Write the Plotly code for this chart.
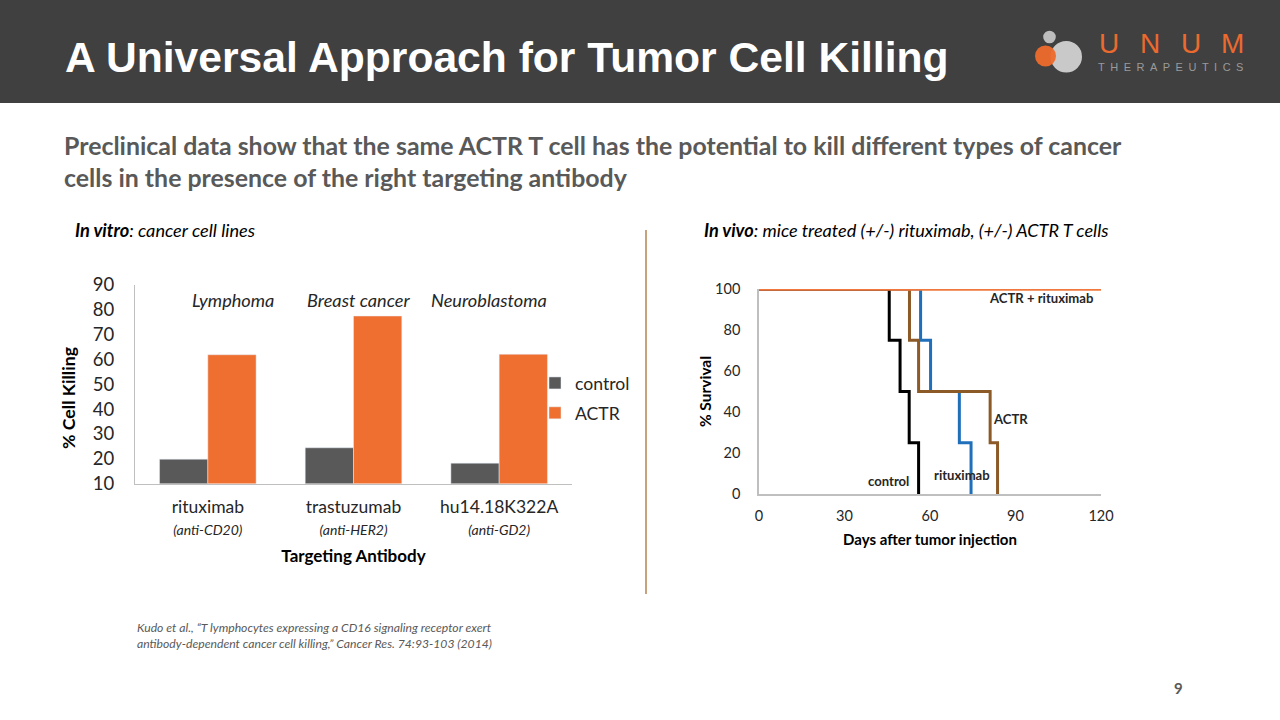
import plotly.graph_objects as go

# ---------------- data ----------------
antibodies = ["rituximab", "trastuzumab", "hu14.18K322A"]
targets = ["(anti-CD20)", "(anti-HER2)", "(anti-GD2)"]
cancer_types = ["Lymphoma", "Breast cancer", "Neuroblastoma"]
control_killing = [19.8, 24.4, 18.2]
actr_killing = [61.9, 77.5, 62.1]

# survival (Kaplan-Meier style step data)
control_days = [0, 45.7, 49.5, 52.7, 56.0]
control_surv = [100, 75, 50, 25, 0]
ritux_days = [0, 56.7, 60.2, 70.3, 74.4]
ritux_surv = [100, 75, 50, 25, 0]
actr_days = [0, 52.8, 56.0, 81.1, 83.7]
actr_surv = [100, 75, 50, 25, 0]
combo_days = [0, 120]
combo_surv = [100, 100]

bar_yticks = [10, 20, 30, 40, 50, 60, 70, 80, 90]
surv_xticks = [0, 30, 60, 90, 120]
surv_yticks = [0, 20, 40, 60, 80, 100]

# ---------------- style ----------------
W, H = 1280, 720
CAL = "Lato, 'Open Sans', sans-serif"
ARIAL = "'Liberation Sans', Arial, sans-serif"
GREY_BAR = "#595959"
ORANGE_BAR = "#EF6F31"
AXIS = "#BFBFBF"


def px_x(x):
    return x / W


def px_y(y):
    return 1 - y / H


cat_ticks = [
    f"{a}<br><span style='font-size:14px'><i>{t}</i></span>" for a, t in zip(antibodies, targets)
]

fig = go.Figure()

fig.add_trace(go.Bar(
    x=antibodies, y=control_killing, name="control", marker_color=GREY_BAR,
    legendgroup="control", xaxis="x", yaxis="y",
))
fig.add_trace(go.Bar(
    x=antibodies, y=actr_killing, name="ACTR", marker_color=ORANGE_BAR,
    legendgroup="ACTR", xaxis="x", yaxis="y",
))

fig.add_trace(go.Scatter(
    x=ritux_days, y=ritux_surv, mode="lines", line=dict(color="#1F6FBA", width=3, shape="hv"),
    xaxis="x2", yaxis="y2", showlegend=False, cliponaxis=False, name="rituximab",
))
fig.add_trace(go.Scatter(
    x=actr_days, y=actr_surv, mode="lines", line=dict(color="#8C5A27", width=3, shape="hv"),
    xaxis="x2", yaxis="y2", showlegend=False, cliponaxis=False, name="ACTR",
))
fig.add_trace(go.Scatter(
    x=control_days, y=control_surv, mode="lines", line=dict(color="#000000", width=3, shape="hv"),
    xaxis="x2", yaxis="y2", showlegend=False, cliponaxis=False, name="control",
))
fig.add_trace(go.Scatter(
    x=combo_days, y=combo_surv, mode="lines", line=dict(color="#F0783F", width=3.4, shape="hv"),
    xaxis="x2", yaxis="y2", showlegend=False, cliponaxis=False, name="ACTR + rituximab",
))

fig.update_layout(
    width=W, height=H,
    margin=dict(l=0, r=0, t=0, b=0),
    paper_bgcolor="white", plot_bgcolor="white",
    font=dict(family=CAL, color="#262626"),
    barmode="group", bargap=0.337, bargroupgap=0,
    showlegend=True,
    legend=dict(
        x=px_x(535), y=px_y(365), xanchor="left", yanchor="top",
        font=dict(family=CAL, size=17.6, color="#262626"),
        traceorder="grouped", tracegroupgap=4, bgcolor="rgba(0,0,0,0)",
        itemclick=False,
    ),
    xaxis=dict(
        domain=[px_x(135), px_x(572)], anchor="y",
        tickmode="array", tickvals=antibodies, ticktext=cat_ticks,
        tickfont=dict(family=CAL, size=17.5, color="#262626"),
        showline=True, linecolor=AXIS, linewidth=1, ticks="", showgrid=False,
        ticklabelstandoff=7,
        title=dict(text="<b>Targeting Antibody</b>", font=dict(family=CAL, size=17, color="#000"), standoff=12),
        automargin=False,
    ),
    yaxis=dict(
        domain=[px_y(483.5), px_y(285)], anchor="x", range=[10, 90],
        tickmode="array", tickvals=bar_yticks,
        tickfont=dict(family=CAL, size=18.5, color="#262626"),
        showline=True, linecolor=AXIS, linewidth=1, ticks="", showgrid=False, zeroline=False,
        ticklabelstandoff=16,
        automargin=False,
    ),
    xaxis2=dict(
        domain=[px_x(759), px_x(1101)], anchor="y2", range=[0, 120],
        tickmode="array", tickvals=surv_xticks,
        tickfont=dict(family=CAL, size=14.5, color="#262626"),
        showline=True, linecolor=AXIS, linewidth=1.5, ticks="", showgrid=False, zeroline=False,
        ticklabelstandoff=8,
        title=dict(text="<b>Days after tumor injection</b>", font=dict(family=CAL, size=15, color="#000"), standoff=11),
        automargin=False,
    ),
    yaxis2=dict(
        domain=[px_y(494), px_y(289)], anchor="x2", range=[0, 100],
        tickmode="array", tickvals=surv_yticks,
        tickfont=dict(family=CAL, size=14.5, color="#262626"),
        showline=True, linecolor=AXIS, linewidth=1.5, ticks="", showgrid=False, zeroline=False,
        ticklabelstandoff=14,
        title=dict(text="<b>% Survival</b>", font=dict(family=CAL, size=15.5, color="#000"), standoff=0),
        automargin=False,
    ),
)

shapes = [
    # header band
    dict(type="rect", xref="paper", yref="paper", x0=0, x1=1, y0=px_y(103), y1=1,
         fillcolor="#404040", line=dict(width=0), layer="below"),
    # divider
    dict(type="line", xref="paper", yref="paper", x0=px_x(646), x1=px_x(646), y0=px_y(594), y1=px_y(230),
         line=dict(color="#C8A27C", width=2)),
    # logo circles
    dict(type="circle", xref="paper", yref="paper", x0=px_x(1050.5), x1=px_x(1082), y0=px_y(72.5), y1=px_y(41),
         fillcolor="#C9C9C9", line=dict(width=0)),
    dict(type="circle", xref="paper", yref="paper", x0=px_x(1035), x1=px_x(1056), y0=px_y(66.5), y1=px_y(45.5),
         fillcolor="#EE6A2C", line=dict(width=0), opacity=0.95),
    dict(type="circle", xref="paper", yref="paper", x0=px_x(1043.2), x1=px_x(1055.8), y0=px_y(43.3), y1=px_y(30.7),
         fillcolor="#BDBDBD", line=dict(width=0)),
]
fig.update_layout(shapes=shapes)

ann = []


def note(text, x, y, size, color="#262626", family=CAL, xanchor="left", yanchor="middle", xref="paper",
         yref="paper", align="left", textangle=0):
    ann.append(dict(text=text, x=x, y=y, xref=xref, yref=yref, xanchor=xanchor, yanchor=yanchor,
                    showarrow=False, align=align, textangle=textangle,
                    font=dict(family=family, size=size, color=color)))


# title
note("<b>A Universal Approach for Tumor Cell Killing</b>", px_x(63), px_y(57), 42.6, color="#FFFFFF", family=ARIAL)
# logo text
for letter, cx in zip("UNUM", [1109, 1150, 1191, 1232]):
    note(letter, px_x(cx), px_y(43), 28, color="#EC6A2E", family=ARIAL, xanchor="center")
note("T\u2002H\u2002E\u2002R\u2002A\u2002P\u2002E\u2002U\u2002T\u2002I\u2002C\u2002S", px_x(1096), px_y(67), 11,
     color="#9A9A9A", family=ARIAL)

# subheading
note("<b>Preclinical data show that the same ACTR T cell has the potential to kill different types of cancer<br>"
     "cells in the presence of the right targeting antibody</b>", px_x(62), px_y(161), 24.9, color="#595959")

note("<b><i>In vitro</i></b><i>: cancer cell lines</i>", px_x(73), px_y(230), 18.2, color="#000")
note("<b><i>In vivo</i></b><i>: mice treated (+/-) rituximab, (+/-) ACTR T cells</i>", px_x(702), px_y(230), 18.1, color="#000")

# bar chart y-axis title
note("<b>% Cell Killing</b>", px_x(68), px_y(398), 17.7, color="#000", xanchor="center", textangle=-90)

# cancer type labels above bars
for ct, cx in zip(cancer_types, [233, 358, 489]):
    note(f"<i>{ct}</i>", px_x(cx), px_y(300), 18.2, color="#262626", xanchor="center")

# survival curve labels
for txt, dx, dy in [("ACTR + rituximab", 98.9, 95.6), ("ACTR", 88.1, 36.6),
                    ("rituximab", 71.2, 9.3), ("control", 45.6, 6.3)]:
    note(f"<b>{txt}</b>", dx, dy, 13.1, color="#262626", xref="x2", yref="y2", xanchor="center")

# footnote
note("<i>Kudo et al., \u201cT lymphocytes expressing a CD16 signaling receptor exert<br>"
     "antibody-dependent cancer cell killing,\u201d Cancer Res. 74:93-103 (2014)</i>",
     px_x(135), px_y(635), 12.2, color="#595959")

# page number
note("<b>9</b>", px_x(1178), px_y(688), 15, color="#595959", xanchor="center")

fig.update_layout(annotations=ann)

fig.write_html("out.html", config={"displayModeBar": False},
               post_script="document.body.style.margin='0';document.body.style.padding='0';")
